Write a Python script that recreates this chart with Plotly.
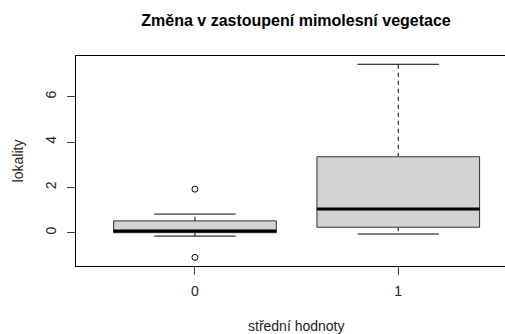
import plotly.graph_objects as go

# Box-plot summary per group (Tukey statistics)
groups = ["0", "1"]
lower_whisker = [-0.15, -0.06]
q1 = [0.0, 0.24]
median = [0.07, 1.05]
q3 = [0.52, 3.35]
upper_whisker = [0.82, 7.43]
outliers = [[1.92, -1.09], []]

BOX_HALF = 0.4
CAP_HALF = 0.2
FILL = "#D3D3D3"
INK = "#000000"

fig = go.Figure()

for i, g in enumerate(groups):
    x0, x1 = i - BOX_HALF, i + BOX_HALF
    # whiskers (dashed) from box to extremes
    fig.add_trace(go.Scatter(
        x=[i, i, None, i, i],
        y=[q3[i], upper_whisker[i], None, q1[i], lower_whisker[i]],
        mode="lines", line=dict(color=INK, width=1, dash="4px,4px"),
        hoverinfo="skip", showlegend=False))
    # whisker caps
    fig.add_trace(go.Scatter(
        x=[i - CAP_HALF, i + CAP_HALF, None, i - CAP_HALF, i + CAP_HALF],
        y=[upper_whisker[i], upper_whisker[i], None, lower_whisker[i], lower_whisker[i]],
        mode="lines", line=dict(color=INK, width=1),
        hoverinfo="skip", showlegend=False))
    # box
    fig.add_trace(go.Scatter(
        x=[x0, x1, x1, x0, x0],
        y=[q1[i], q1[i], q3[i], q3[i], q1[i]],
        mode="lines", fill="toself", fillcolor=FILL,
        line=dict(color="#333333", width=1),
        hoverinfo="skip", showlegend=False))
    # median
    fig.add_trace(go.Scatter(
        x=[x0, x1], y=[median[i], median[i]],
        mode="lines", line=dict(color=INK, width=3),
        hoverinfo="skip", showlegend=False))
    # outliers
    if outliers[i]:
        fig.add_trace(go.Scatter(
            x=[i] * len(outliers[i]), y=outliers[i],
            mode="markers",
            marker=dict(symbol="circle-open", size=6, color=INK, line=dict(width=1)),
            hoverinfo="skip", showlegend=False))

FONT = "Liberation Sans, Arial, sans-serif"

fig.update_layout(
    width=505, height=334,
    margin=dict(l=76, r=0, t=56, b=68),
    paper_bgcolor="white", plot_bgcolor="white",
    font=dict(family=FONT, size=14, color="#222222"),
    title=dict(text="<b>Změna v zastoupení mimolesní vegetace</b>",
               x=296 / 505, xref="container", xanchor="center",
               y=1 - 20 / 334, yref="container", yanchor="middle",
               font=dict(size=16, color="#000000")),
    xaxis=dict(range=[-0.585, 1.525], tickvals=list(range(len(groups))), ticktext=groups,
               showgrid=False, zeroline=False,
               showline=True, linecolor=INK, linewidth=1, mirror=True,
               ticks="outside", ticklen=8, tickcolor="#444444",
               ticklabelstandoff=4, tickfont=dict(size=14)),
    yaxis=dict(range=[-1.47, 7.795], tickvals=[0, 2, 4, 6],
               showgrid=False, zeroline=False,
               showline=True, linecolor=INK, linewidth=1,
               ticks="outside", ticklen=8, tickcolor="#444444",
               tickangle=-90, ticklabelstandoff=5, tickfont=dict(size=14),
               title=dict(text="lokality", standoff=16, font=dict(size=14))),
    annotations=[dict(text="střední hodnoty", xref="paper", yref="paper",
                      x=(296.7 - 76) / 429, y=-(326 - 266) / 210,
                      xanchor="center", yanchor="middle", showarrow=False,
                      font=dict(size=14, color="#222222"))],
)

fig.write_html("out.html")
